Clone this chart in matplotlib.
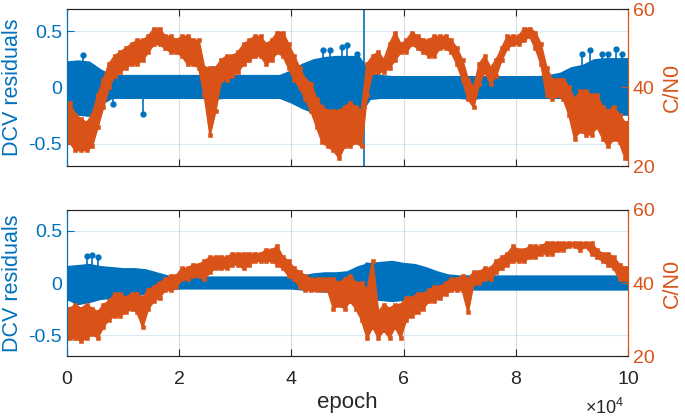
import numpy as np
import matplotlib
matplotlib.use("Agg")
import matplotlib.pyplot as plt

plt.rcParams['font.family'] = ['Liberation Sans', 'DejaVu Sans']
plt.rcParams['mathtext.fontset'] = 'custom'
plt.rcParams['mathtext.rm'] = 'Liberation Sans'

BLUE = '#0072BD'
ORANGE = '#D95319'

# ---------------- data (epoch in units of 1e4) ----------------
# C/N0 low/high per 1000-epoch bin, top panel
cn0_top_lo = [26, 24, 24, 24, 25, 30, 35, 40, 43, 44,
              45, 46, 46, 47, 49, 51, 51, 50, 49, 49,
              48, 46, 46, 45, 38, 28, 34, 42, 42, 43,
              44, 46, 47, 48, 48, 46, 47, 49, 48, 45,
              42, 40, 37, 34, 30, 26, 25, 24, 22, 25,
              25, 26, 25, 38, 44, 44, 44, 45, 47, 49,
              49, 51, 50, 49, 48, 48, 50, 50, 49, 46,
              42, 37, 35, 41, 44, 41, 43, 47, 50, 51,
              51, 52, 53, 50, 46, 38, 37, 38, 37, 33,
              27, 29, 28, 28, 30, 27, 25, 27, 26, 22]
cn0_top_hi = [36, 33, 32, 31, 33, 38, 42, 46, 48, 49,
              50, 51, 52, 52, 53, 55, 55, 53, 53, 52,
              53, 53, 52, 52, 45, 45, 45, 47, 48, 48,
              49, 51, 52, 53, 53, 51, 52, 54, 54, 51,
              48, 45, 42, 41, 37, 35, 34, 34, 34, 35,
              36, 35, 34, 46, 48, 49, 47, 51, 54, 51,
              52, 54, 53, 52, 52, 53, 53, 53, 52, 50,
              47, 42, 40, 46, 48, 45, 47, 50, 53, 53,
              53, 55, 55, 54, 51, 45, 42, 42, 42, 40,
              37, 39, 39, 38, 38, 35, 34, 35, 33, 31]
# C/N0 low/high per 1000-epoch bin, bottom panel
cn0_bot_lo = [25, 25, 24, 25, 26, 25, 28, 30, 31, 31,
              32, 33, 32, 28, 33, 35, 36, 38, 38, 39,
              41, 41, 42, 42, 41, 43, 44, 44, 44, 45,
              45, 44, 45, 46, 46, 46, 46, 45, 44, 42,
              41, 39, 38, 38, 38, 38, 38, 33, 34, 33,
              35, 33, 30, 25, 28, 25, 27, 25, 28, 25,
              30, 31, 32, 33, 35, 35, 36, 37, 38, 38,
              38, 32, 40, 40, 41, 41, 43, 44, 45, 46,
              46, 46, 47, 47, 48, 48, 48, 49, 49, 50,
              50, 49, 50, 48, 47, 46, 45, 44, 41, 41]
cn0_bot_hi = [33, 34, 33, 34, 33, 32, 34, 35, 37, 37,
              36, 37, 37, 36, 38, 39, 40, 41, 42, 42,
              44, 44, 45, 45, 46, 47, 47, 47, 47, 48,
              48, 48, 48, 48, 48, 49, 49, 50, 47, 46,
              44, 43, 42, 41, 41, 41, 41, 41, 40, 41,
              42, 40, 40, 38, 46, 32, 34, 33, 34, 34,
              36, 36, 37, 37, 38, 39, 39, 40, 41, 41,
              42, 41, 43, 43, 44, 44, 46, 47, 48, 50,
              49, 49, 50, 50, 50, 51, 51, 51, 51, 51,
              51, 51, 51, 51, 49, 48, 48, 47, 45, 44]

# DCV residual band envelope every 2000 epochs (0 .. 1e5)
res_top_hi = [0.22, 0.23, 0.22, 0.15, 0.10, 0.10, 0.10, 0.10, 0.10, 0.10,
              0.10, 0.10, 0.10, 0.18, 0.10, 0.10, 0.10, 0.10, 0.10, 0.10,
              0.14, 0.20, 0.24, 0.26, 0.27, 0.27, 0.27, 0.12, 0.10, 0.09,
              0.09, 0.09, 0.09, 0.09, 0.09, 0.09, 0.09, 0.09, 0.09, 0.09,
              0.09, 0.09, 0.09, 0.10, 0.12, 0.17, 0.19, 0.24, 0.25, 0.25, 0.25]
res_top_lo = [-0.12, -0.24, -0.25, -0.15, -0.09, -0.09, -0.09, -0.09, -0.09, -0.09,
              -0.09, -0.09, -0.09, -0.10, -0.09, -0.09, -0.09, -0.09, -0.09, -0.09,
              -0.13, -0.18, -0.22, -0.25, -0.26, -0.26, -0.25, -0.10, -0.09, -0.09,
              -0.09, -0.09, -0.09, -0.09, -0.09, -0.09, -0.10, -0.09, -0.09, -0.09,
              -0.09, -0.09, -0.09, -0.09, -0.09, -0.10, -0.13, -0.19, -0.22, -0.24, -0.24]
res_bot_hi = [0.15, 0.16, 0.17, 0.15, 0.14, 0.13, 0.13, 0.12, 0.09, 0.06,
              0.05, 0.05, 0.05, 0.05, 0.05, 0.05, 0.05, 0.05, 0.05, 0.05,
              0.05, 0.06, 0.08, 0.09, 0.09, 0.10, 0.15, 0.18, 0.19, 0.20,
              0.18, 0.17, 0.14, 0.10, 0.07, 0.06, 0.06, 0.06, 0.06, 0.06,
              0.06, 0.06, 0.06, 0.06, 0.06, 0.06, 0.06, 0.06, 0.06, 0.06, 0.06]
res_bot_lo = [-0.15, -0.20, -0.18, -0.15, -0.14, -0.13, -0.12, -0.10, -0.07, -0.06,
              -0.05, -0.05, -0.05, -0.05, -0.05, -0.05, -0.05, -0.05, -0.05, -0.05,
              -0.05, -0.06, -0.07, -0.08, -0.08, -0.09, -0.10, -0.15, -0.16, -0.17,
              -0.16, -0.15, -0.12, -0.08, -0.06, -0.05, -0.06, -0.06, -0.06, -0.06,
              -0.06, -0.06, -0.06, -0.06, -0.06, -0.06, -0.06, -0.06, -0.06, -0.06, -0.06]

# isolated residual outliers (epoch/1e4, value)
out_top_x = [0.28, 0.82, 1.35, 4.56, 4.69, 4.90, 4.99, 5.17, 5.29, 5.29,
             9.18, 9.32, 9.53, 9.64, 9.79, 9.89]
out_top_y = [0.29, -0.15, -0.24, 0.33, 0.33, 0.36, 0.38, 0.30, 3.0, -3.0,
             0.30, 0.33, 0.30, 0.30, 0.34, 0.30]
out_bot_x = [0.35, 0.44, 0.56, 5.35]
out_bot_y = [0.26, 0.27, 0.25, 0.17]

xtick_vals = [0, 2, 4, 6, 8, 10]
xtick_labels = ['0', '2', '4', '6', '8', '10']

# ---------------- figure ----------------
fig = plt.figure(figsize=(6.85, 4.19), dpi=100)
W = (628 - 67) / 685
axes_pos = [[67 / 685, 1 - 166 / 419, W, 157 / 419],
            [67 / 685, 1 - 356 / 419, W, 146 / 419]]

panels = [(cn0_top_lo, cn0_top_hi, res_top_lo, res_top_hi, out_top_x, out_top_y),
          (cn0_bot_lo, cn0_bot_hi, res_bot_lo, res_bot_hi, out_bot_x, out_bot_y)]

for i, (clo, chi, rlo, rhi, ox, oy) in enumerate(panels):
    ax = fig.add_axes(axes_pos[i])
    xb = np.arange(len(rlo)) * 2000.0
    ax.fill_between(xb, rlo, rhi, color=BLUE, lw=0, zorder=2)
    ax.plot(xb, rlo, '-', color=BLUE, lw=2.0, zorder=2)
    ax.plot(xb, rhi, '-', color=BLUE, lw=2.0, zorder=2)
    oxe = np.array(ox) * 1e4
    ax.vlines(oxe, 0, oy, color=BLUE, lw=1.2, zorder=2)
    ax.plot(oxe, oy, '.', color=BLUE, ms=7, zorder=2)
    ax.set_ylim(-0.7, 0.7)
    ax.set_xlim(0, 100000)
    ax.set_yticks([-0.5, 0, 0.5])
    ax.set_yticklabels(['-0.5', '0', '0.5'])
    ax.set_xticks(np.array(xtick_vals) * 1e4)
    if i == 1:
        ax.set_xticklabels(xtick_labels)
        ax.set_xlabel('epoch', fontsize=16, color='#262626', labelpad=3)
    else:
        ax.set_xticklabels([])
    ax.set_ylabel('DCV residuals', fontsize=15.5, color=BLUE, labelpad=4)
    ax.grid(True, axis='x', color='#262626', alpha=0.15, lw=0.8)
    for yv in [-0.5, 0, 0.5]:
        ax.axhline(yv, color=BLUE, alpha=0.15, lw=0.8, zorder=0)
    ax.tick_params(axis='y', colors=BLUE, direction='in', length=5, labelsize=14)
    ax.tick_params(axis='x', colors='#262626', direction='in', length=5,
                   labelsize=14, top=True, pad=11)
    ax.spines['left'].set_color(BLUE)
    ax.spines['right'].set_color(ORANGE)
    ax.spines['top'].set_color('#262626')
    ax.spines['bottom'].set_color('#262626')

    ax2 = ax.twinx()
    # bin centres, with the first/last bins held to the axis edges
    xc = np.arange(len(clo)) * 1000.0 + 500.0
    xc = np.concatenate([[0.0], xc, [100000.0]])
    lo = np.concatenate([[clo[0]], clo, [clo[-1]]])
    hi = np.concatenate([[chi[0]], chi, [chi[-1]]])
    ax2.fill_between(xc, lo, hi, color=ORANGE, lw=0)
    ax2.plot(xc, lo, '-s', color=ORANGE, ms=2.8, lw=1.4, mew=0.4)
    ax2.plot(xc, hi, '-s', color=ORANGE, ms=2.8, lw=1.4, mew=0.4)
    ax2.set_ylim(20, 60)
    ax2.set_yticks([20, 40, 60])
    ax2.tick_params(axis='y', colors=ORANGE, direction='in', length=5, labelsize=14)
    ax2.set_ylabel('C/N0', fontsize=15.5, color=ORANGE, labelpad=5)
    ax2.spines['right'].set_color(ORANGE)
    ax2.spines['left'].set_color(BLUE)
    ax2.spines['top'].set_color('#262626')
    ax2.spines['bottom'].set_color('#262626')

fig.text(624 / 685, 1 - 408 / 419, r'$\mathregular{\times10^4}$', fontsize=13,
         color='#262626', ha='right', va='center')

fig.savefig('out.png', dpi=100)
